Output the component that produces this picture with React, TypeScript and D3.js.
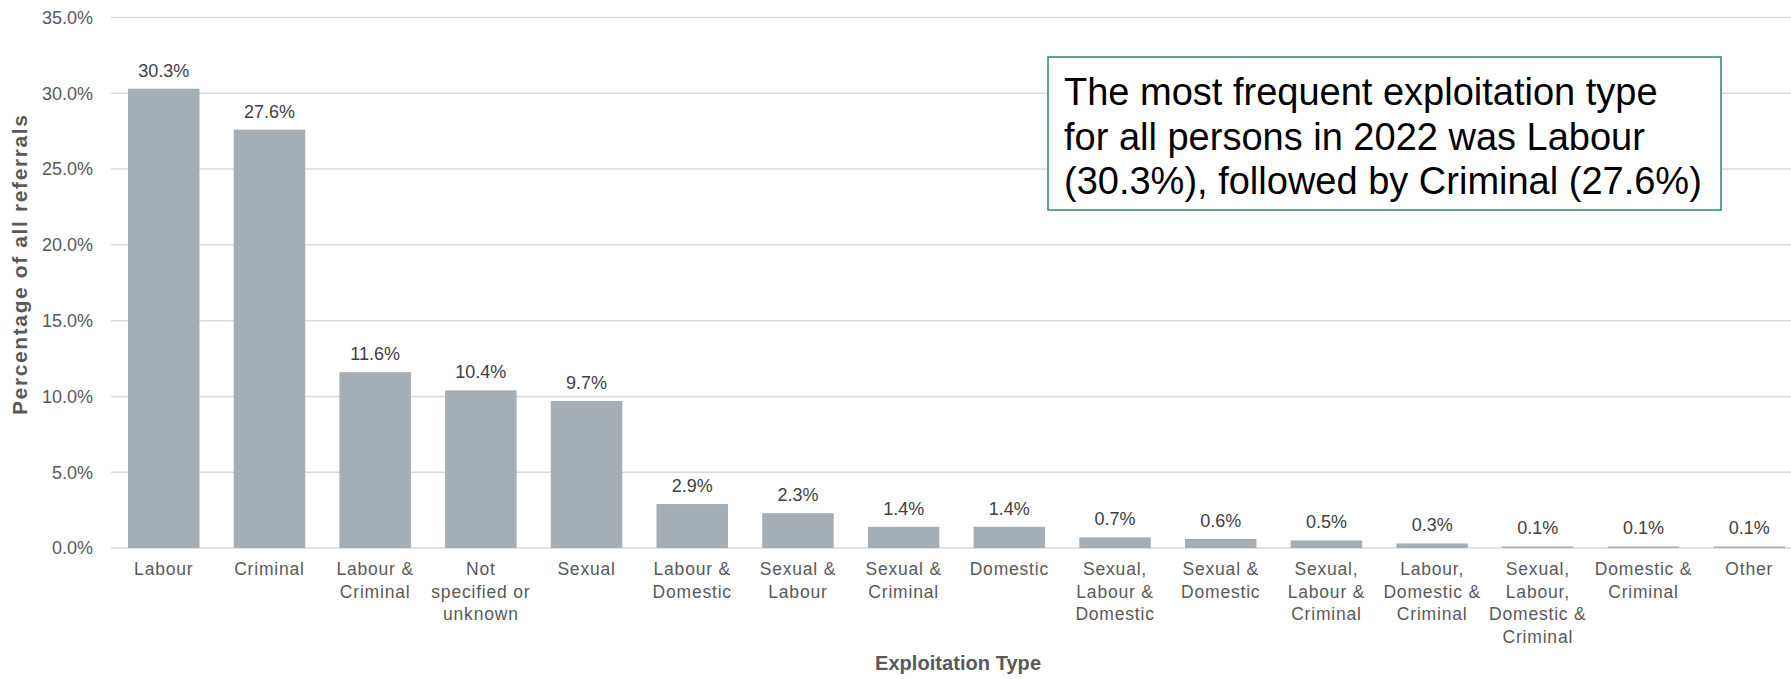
import React from "react";
import * as d3 from "d3";

const categories: string[][] = [
  ["Labour"],
  ["Criminal"],
  ["Labour &", "Criminal"],
  ["Not", "specified or", "unknown"],
  ["Sexual"],
  ["Labour &", "Domestic"],
  ["Sexual &", "Labour"],
  ["Sexual &", "Criminal"],
  ["Domestic"],
  ["Sexual,", "Labour &", "Domestic"],
  ["Sexual &", "Domestic"],
  ["Sexual,", "Labour &", "Criminal"],
  ["Labour,", "Domestic &", "Criminal"],
  ["Sexual,", "Labour,", "Domestic &", "Criminal"],
  ["Domestic &", "Criminal"],
  ["Other"],
];
const values: number[] = [30.3, 27.6, 11.6, 10.4, 9.7, 2.9, 2.3, 1.4, 1.4, 0.7, 0.6, 0.5, 0.3, 0.1, 0.1, 0.1];
const yTicks: number[] = [0, 5, 10, 15, 20, 25, 30, 35];
const annotationLines: string[] = [
  "The most frequent exploitation type",
  "for all persons in 2022 was Labour",
  "(30.3%), followed by Criminal (27.6%)",
];
const yTitle = "Percentage of all referrals";
const xTitle = "Exploitation Type";

const W = 1791;
const H = 679;
const FONT = "'Liberation Sans', Arial, sans-serif";

export default function App() {
  const x = d3
    .scaleBand<number>()
    .domain(values.map((_, i) => i))
    .range([111, 1802])
    .paddingInner(0.3236)
    .paddingOuter(0.161);
  const y = d3.scaleLinear().domain([0, 35]).range([548, 17.5]);
  const cx = (i: number) => x(i)! + x.bandwidth() / 2;

  return (
    <svg
      width={W}
      height={H}
      style={{ position: "absolute", left: 0, top: 0, background: "#fff" }}
      fontFamily={FONT}
    >
      {yTicks.map((t) => (
        <g key={t}>
          <line x1={111} x2={1791} y1={y(t)} y2={y(t)} stroke="#d9d9d9" strokeWidth={1.5} />
          <text x={93} y={y(t)} dy="0.35em" textAnchor="end" fontSize={18} fill="#595959">
            {t.toFixed(1) + "%"}
          </text>
        </g>
      ))}
      {values.map((v, i) => (
        <g key={i}>
          <rect
            x={x(i)!}
            y={y(v)}
            width={x.bandwidth()}
            height={y(0) - y(v)}
            fill="#a5aeb5"
          />
          <text x={cx(i)} y={y(v) - 12} textAnchor="middle" fontSize={18} fill="#404040">
            {v.toFixed(1) + "%"}
          </text>
          <text
            x={cx(i)}
            y={575}
            textAnchor="middle"
            fontSize={17.5}
            letterSpacing={0.8}
            fill="#595959"
          >
            {categories[i].map((line, j) => (
              <tspan key={j} x={cx(i)} dy={j === 0 ? 0 : 22.5}>
                {line}
              </tspan>
            ))}
          </text>
        </g>
      ))}
      <text
        transform={`translate(27, ${265}) rotate(-90)`}
        textAnchor="middle"
        fontSize={21}
        fontWeight="bold"
        fill="#595959"
        textLength={300}
        lengthAdjust="spacing"
      >
        {yTitle}
      </text>
      <text
        x={958}
        y={670}
        textAnchor="middle"
        fontSize={20}
        fontWeight="bold"
        fill="#595959"
        textLength={166}
        lengthAdjust="spacing"
      >
        {xTitle}
      </text>
      <rect x={1048} y={57} width={673} height={153} fill="#fff" stroke="#23896f" strokeWidth={1.5} />
      <text x={1064} y={105} fontSize={38} fill="#000">
        {annotationLines.map((l, i) => (
          <tspan key={i} x={1064} dy={i === 0 ? 0 : 44.5}>
            {l}
          </tspan>
        ))}
      </text>
    </svg>
  );
}
